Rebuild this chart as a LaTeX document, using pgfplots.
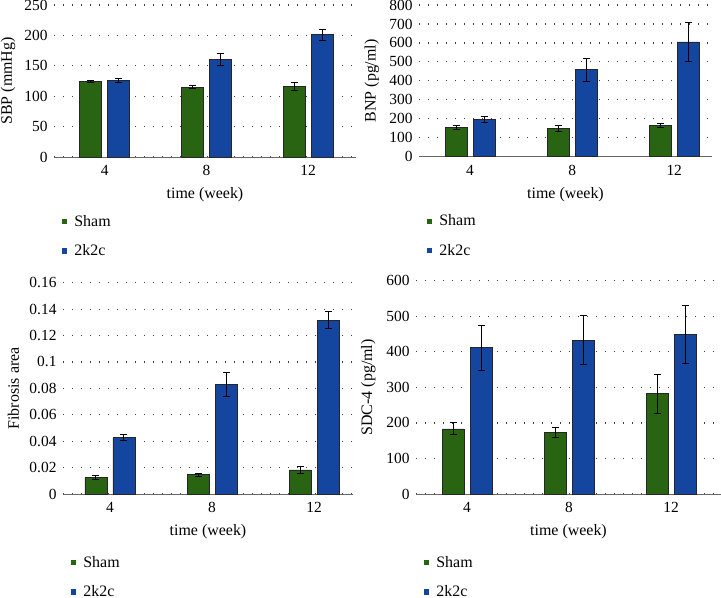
\documentclass[border=0pt]{standalone}
\usepackage{fontspec}
\setmainfont{Liberation Serif}
\usepackage{pgfplots}
\pgfplotsset{compat=1.18}
\definecolor{shamgreen}{RGB}{40,100,18}
\definecolor{kblue}{RGB}{20,70,160}
\pgfplotsset{
  panel/.style={
    scale only axis, anchor=south west,
    ybar, bar width=22bp,
    legend image code/.code={\fill[##1,/tikz/.cd,draw=none] (0bp,-2.6bp) rectangle (5.2bp,2.6bp);},
    xtick={0,1,2}, xticklabels={4,8,12},
    axis x line*=bottom, axis y line*=left,
    x axis line style={draw=black!60, line width=1bp, -},
    y axis line style={draw=none},
    ymajorgrids,
    major grid style={draw=black!75, line width=1.2bp, dash pattern=on 1.2bp off 7.8bp},
    major tick length=0pt,
    ymin=0,
    /pgf/number format/assume math mode=true,
    tick label style={font=\fontsize{15.5}{18}\selectfont},
    label style={font=\fontsize{16}{19}\selectfont},
    xticklabel style={yshift=-5bp},
    yticklabel style={xshift=-3bp},
    xlabel={time (week)},
    xlabel style={at={(axis description cs:0.5,0)}, anchor=center, yshift=-37.5bp},
    legend style={at={(axis description cs:0,0)}, anchor=north west, draw=none, fill=none,
      xshift=5bp, yshift=-54bp, row sep=13bp, font=\fontsize{16}{19}\selectfont,
      legend cell align=left,
      /tikz/every odd column/.append style={column sep=5bp}},
    legend columns=1,
  },
  sham/.style={fill=shamgreen, draw=black!85, line width=0.8bp, bar shift=-14bp,
    error bars/.cd, y dir=both, y explicit,
    error bar style={black, line width=1bp},
    error mark options={rotate=90, black, mark size=3.5bp, line width=1bp}},
  kk/.style={fill=kblue, draw=black!85, line width=0.8bp, bar shift=14bp,
    error bars/.cd, y dir=both, y explicit,
    error bar style={black, line width=1bp},
    error mark options={rotate=90, black, mark size=3.5bp, line width=1bp}},
}
\begin{document}
\begin{tikzpicture}
\useasboundingbox (0,0) rectangle (721bp,-598bp);
% Panel 1: SBP
\begin{axis}[panel, at={(54bp,-157bp)}, width=302bp, height=152bp,
  xmin=-0.5, xmax=2.47, ymax=250, ytick={0,50,100,150,200,250},
  ylabel={SBP (mmHg)}, ylabel style={at={(axis description cs:-0.152,0.5)}, anchor=center}]
\addplot[sham] coordinates {(0,124) +- (0,2) (1,115) +- (0,2) (2,116) +- (0,6)};
\addplot[kk] coordinates {(0,126) +- (0,3) (1,161) +- (0,10) (2,201) +- (0,9)};
\legend{Sham,2k2c}
\end{axis}
% Panel 2: BNP
\begin{axis}[panel, at={(419bp,-156.7bp)}, width=293bp, height=151.7bp,
  xmin=-0.5, xmax=2.37, ymax=800, ytick={0,100,...,800},
  ylabel={BNP (pg/ml)}, ylabel style={at={(axis description cs:-0.161,0.5)}, anchor=center}]
\addplot[sham] coordinates {(0,153) +- (0,11) (1,148) +- (0,15) (2,165) +- (0,10)};
\addplot[kk] coordinates {(0,197) +- (0,14) (1,458) +- (0,60) (2,605) +- (0,103)};
\legend{Sham,2k2c}
\end{axis}
% Panel 3: Fibrosis area
\begin{axis}[panel, at={(63bp,-494bp)}, width=290bp, height=211.3bp,
  xmin=-0.46, xmax=2.38, ymax=0.16, ytick={0,0.02,0.04,0.06,0.08,0.1,0.12,0.14,0.16},
  scaled y ticks=false,
  yticklabel style={/pgf/number format/fixed, /pgf/number format/precision=2},
  legend style={yshift=-4bp},
  ylabel={Fibrosis area}, ylabel style={at={(axis description cs:-0.171,0.5)}, anchor=center}]
\addplot[sham] coordinates {(0,0.0125) +- (0,0.0012) (1,0.0145) +- (0,0.001) (2,0.0182) +- (0,0.0028)};
\addplot[kk] coordinates {(0,0.0427) +- (0,0.0024) (1,0.0828) +- (0,0.009) (2,0.1315) +- (0,0.0065)};
\legend{Sham,2k2c}
\end{axis}
% Panel 4: SDC-4
\begin{axis}[panel, at={(416bp,-494bp)}, width=305bp, height=213.3bp,
  xmin=-0.5, xmax=2.49, ymax=600, ytick={0,100,...,600},
  legend style={yshift=-4bp},
  ylabel={SDC-4 (pg/ml)}, ylabel style={at={(axis description cs:-0.156,0.5)}, anchor=center}]
\addplot[sham] coordinates {(0,183) +- (0,17) (1,173) +- (0,13) (2,282) +- (0,55)};
\addplot[kk] coordinates {(0,411) +- (0,64) (1,433) +- (0,69) (2,449) +- (0,81)};
\legend{Sham,2k2c}
\end{axis}
\end{tikzpicture}
\end{document}
